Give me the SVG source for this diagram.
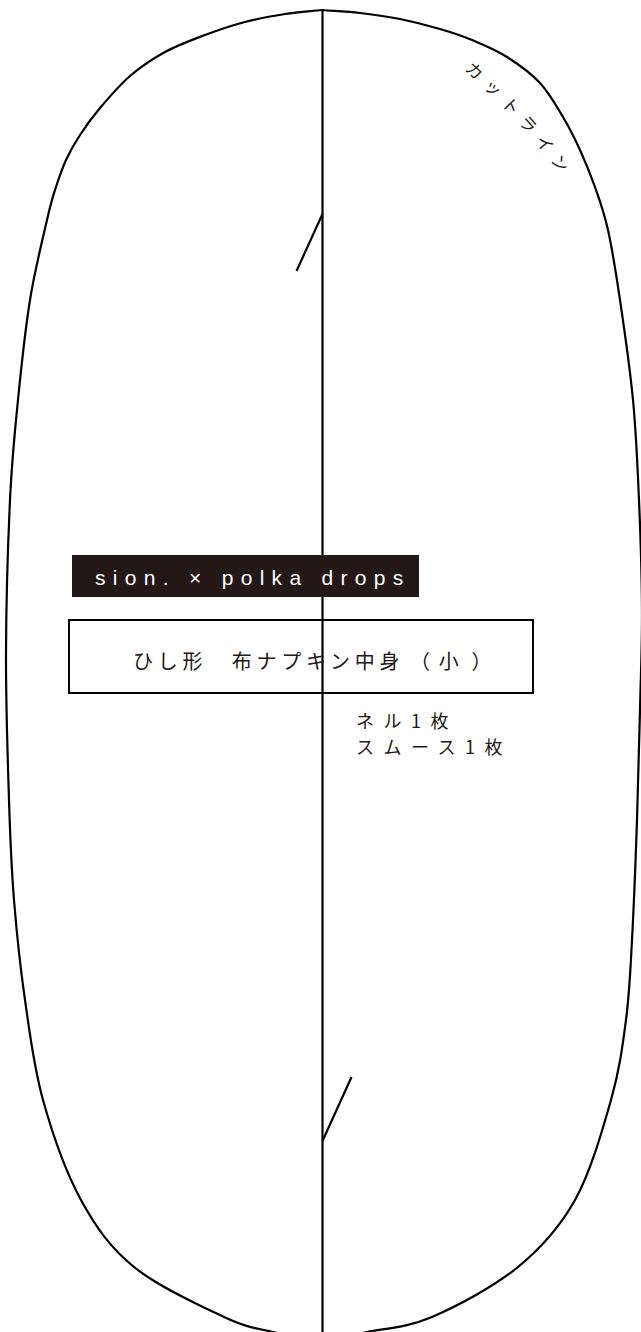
<svg xmlns="http://www.w3.org/2000/svg" width="641" height="1332" viewBox="0 0 641 1332">
<style>
.line{fill:none;stroke:#000;stroke-width:2.2;stroke-linecap:butt;stroke-linejoin:miter}
.jp{font-family:"Noto Sans CJK JP","Noto Sans",sans-serif;fill:#231815}
.lat{font-family:"Liberation Sans",Arial,sans-serif}
</style>
<defs>
<path id="cutPath" d="M 464 70 Q 520 118 566 182"/>
</defs>
<rect width="641" height="1332" fill="#fff"/>
<g id="outline">
<path class="line" d="M 322 10 C 334.7 11, 347 11.5, 360 13 C 373 14.5, 386.7 16.3, 400 19 C 413.3 21.7, 428 25.5, 440 29 C 452 32.5, 460.8 35.3, 472 40 C 483.2 44.7, 495.7 49.8, 507 57 C 518.3 64.2, 530.7 73, 540 83 C 549.3 93, 556.3 105.8, 563 117 C 569.7 128.2, 574.7 138.3, 580 150 C 585.3 161.7, 590.3 173.7, 595 187 C 599.7 200.3, 603.8 211.2, 608 230 C 612.2 248.8, 615.8 271.7, 620 300 C 624.2 328.3, 629.8 366.7, 633 400 C 636.2 433.3, 637.5 465, 639 500 C 640.5 535, 641.8 575, 642 610 C 642.2 645, 640.8 675, 640 710 C 639.2 745, 638.3 781.7, 637 820 C 635.7 858.3, 633.8 906.7, 632 940 C 630.2 973.3, 629.5 993.3, 626 1020 C 622.5 1046.7, 619.5 1070, 611 1100 C 602.5 1130, 590.5 1172.2, 575 1200 C 559.5 1227.8, 541.8 1247.5, 518 1267 C 494.2 1286.5, 457.2 1306.2, 432 1317 C 406.8 1327.8, 385.7 1328.3, 367 1332 C 348.3 1335.7, 335.7 1339, 320 1339 C 304.3 1339, 289 1335.7, 273 1332 C 257 1328.3, 247.2 1327.8, 224 1317 C 200.8 1306.2, 157.8 1286.5, 134 1267 C 110.2 1247.5, 96.2 1227.8, 81 1200 C 65.8 1172.2, 52.3 1133.3, 43 1100 C 33.7 1066.7, 29.8 1033.3, 25 1000 C 20.2 966.7, 16.7 933.3, 14 900 C 11.3 866.7, 10.3 841.2, 9 800 C 7.7 758.8, 5.8 703, 6 653 C 6.2 603, 8 542.2, 10 500 C 12 457.8, 14.7 433.3, 18 400 C 21.3 366.7, 25.2 330, 30 300 C 34.8 270, 42.8 238.3, 47 220 C 51.2 201.7, 51.8 200, 55 190 C 58.2 180, 61.8 169.2, 66 160 C 70.2 150.8, 74.3 143.7, 80 135 C 85.7 126.3, 91.7 117.8, 100 108 C 108.3 98.2, 119.2 85.3, 130 76 C 140.8 66.7, 152.5 58.8, 165 52 C 177.5 45.2, 191.7 40, 205 35 C 218.3 30, 231.7 25.5, 245 22 C 258.3 18.5, 272.2 16, 285 14 C 297.8 12, 309.7 11.3, 322 10 Z"/>
</g>
<g id="center-line">
<line class="line" x1="322.5" y1="9" x2="322.5" y2="1332"/>
</g>
<g id="notches">
<line class="line" x1="322.5" y1="214" x2="296.5" y2="271"/>
<line class="line" x1="322.5" y1="1141" x2="351.5" y2="1077"/>
</g>
<g id="cut-line-label">
<text class="jp" font-size="17" letter-spacing="8"><textPath href="#cutPath">カットライン</textPath></text>
</g>
<g id="brand-label">
<rect x="72" y="555" width="347" height="42" fill="#231815"/>
<text class="lat" x="95" y="585" font-size="21" letter-spacing="7.3" fill="#fff">sion. × polka drops</text>
</g>
<g id="title-box">
<rect x="69" y="620" width="464" height="73" fill="none" stroke="#000" stroke-width="2"/>
<text class="jp" x="133" y="669" font-size="20" letter-spacing="4.7">ひし形　布ナプキン中身<tspan dx="6">（</tspan><tspan dx="4">小</tspan><tspan dx="8">）</tspan></text>
</g>
<g id="quantity">
<text class="jp" x="356" y="727.5" font-size="18" letter-spacing="9.5">ネル1枚</text>
<text class="jp" x="356" y="753.5" font-size="18" letter-spacing="9.5">スムース1枚</text>
</g>
</svg>
